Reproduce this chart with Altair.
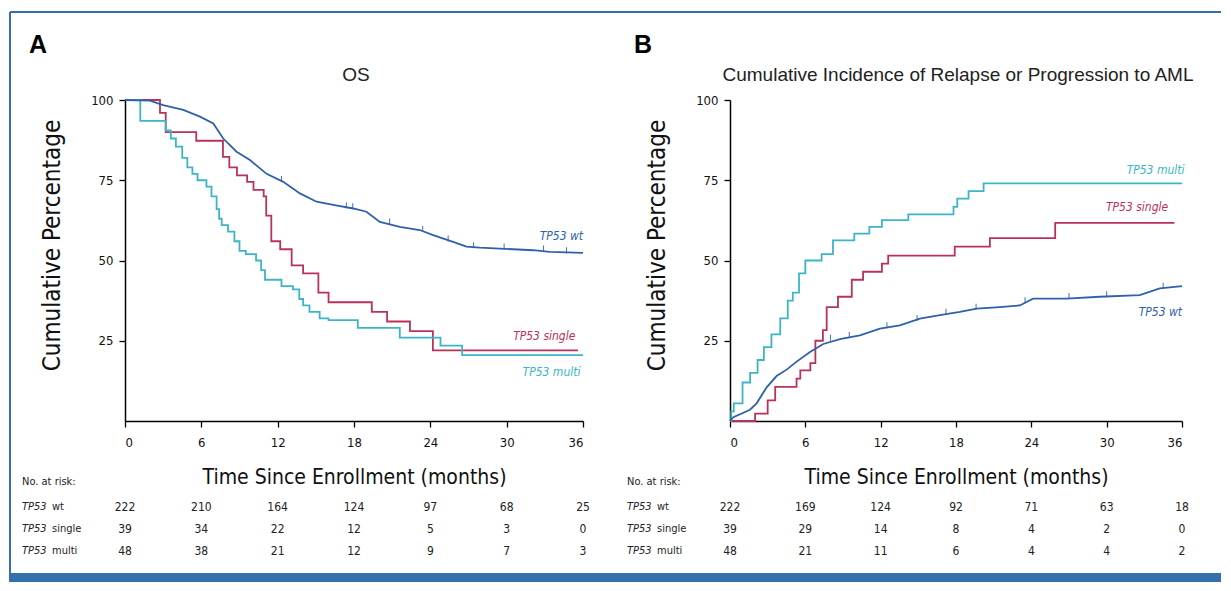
import altair as alt
import pandas as pd

# ---------------- data ----------------
groups = ["TP53 wt", "TP53 single", "TP53 multi"]
colors = ["#3060aa", "#b8325a", "#3cb6c6"]

# Panel A: overall survival (%)
os_wt_t = [0, 1.96, 3.0, 4.58, 5.89, 6.94, 7.72, 8.77, 9.82, 11.13, 12.44, 13.75, 15.06,
           16.37, 17.94, 18.98, 20.03, 21.6, 23.17, 24.22, 25.79, 26.84, 27.89, 29.46,
           32.08, 33.39, 36.0]
os_wt_v = [100, 99.8, 98.4, 96.9, 94.8, 92.7, 88.0, 83.9, 81.3, 77.0, 74.5, 70.9, 68.3,
           67.3, 66.2, 65.2, 62.0, 60.5, 59.5, 57.9, 55.8, 54.3, 54.0, 53.7, 53.2, 52.7, 52.4]
# censor marks on the wt curve
os_cens_t = [12.3, 17.4, 17.9, 20.8, 23.4, 25.4, 27.4, 29.8, 32.9, 34.7]
os_cens_v = [74.8, 66.5, 66.3, 61.5, 59.2, 56.2, 54.1, 53.7, 53.1, 52.6]

os_single_t = [0, 2.75, 3.2, 5.6, 7.7, 8.2, 8.8, 9.6, 10.1, 10.9, 11.1, 11.5, 12.2, 13.1,
               14.0, 15.2, 16.0, 19.4, 20.6, 22.4, 24.2, 35.6]
os_single_v = [100, 96, 90, 87.3, 82.3, 79, 76.5, 74.5, 72, 70, 64, 56, 53.5, 48.5,
               46, 40, 37, 34, 31, 28, 22, 22]

os_multi_t = [0, 1.2, 3.2, 3.6, 4.0, 4.5, 4.9, 5.3, 5.7, 6.4, 6.8, 7.2, 7.4, 7.6, 8.1, 8.6,
              9.0, 9.5, 10.3, 10.7, 11.0, 12.3, 13.2, 13.7, 14.0, 14.5, 15.3, 16.0, 18.3,
              21.6, 24.8, 26.5, 36.0]
os_multi_v = [100, 93.5, 90.5, 88, 85.5, 82, 79, 77, 75, 73, 70, 66, 63, 61, 59, 56,
              53, 52, 50, 47, 44, 42, 41, 38, 36, 34, 32, 31.4, 29, 26, 23.5, 20.5, 20.5]

# Panel B: cumulative incidence of relapse / progression to AML (%)
ci_wt_t = [0, 0.27, 1.59, 2.12, 2.92, 3.71, 4.51, 5.31, 6.37, 7.43, 8.76, 10.35, 11.94,
           13.53, 15.12, 16.72, 18.31, 19.63, 21.49, 23.08, 24.14, 26.8, 29.45, 32.63,
           34.23, 36.0]
ci_wt_v = [0, 1.2, 3.5, 5.5, 10.5, 14.0, 16.0, 18.5, 21.5, 24.0, 25.5, 26.7, 28.8, 29.8,
           31.9, 33, 34, 35, 35.5, 36, 38.1, 38.1, 38.7, 39.2, 41.3, 42]
ci_cens_t = [8.0, 9.5, 12.5, 14.9, 17.2, 19.6, 23.5, 27.0, 30.0, 34.5]
ci_cens_v = [25.3, 26.2, 29.2, 31.5, 33.4, 35.0, 37.0, 38.3, 38.9, 41.5]

ci_single_t = [0, 2.0, 3.0, 3.6, 5.3, 5.6, 6.4, 6.8, 7.4, 7.7, 8.6, 9.7, 10.6, 12.1, 12.6,
               17.9, 20.7, 25.9, 35.4]
ci_single_v = [0, 2.3, 6.4, 10.6, 13.2, 15.8, 18, 25, 28.3, 35.5, 38.7, 44, 46.5, 49,
               51.5, 54.3, 57, 61.7, 61.7]

ci_multi_t = [0, 0.1, 0.3, 1.0, 1.6, 2.2, 2.7, 3.3, 4.0, 4.6, 5.0, 5.5, 6.0, 7.3, 8.2, 9.9,
              11.1, 12.1, 14.2, 17.8, 18.1, 19.0, 20.2, 36.0]
ci_multi_v = [0, 3, 5.5, 12, 15, 19, 23, 27, 32, 37.5, 40, 46, 50, 52, 56.3, 58.4,
              60.5, 62.6, 64.4, 66.7, 69.3, 71.6, 74, 74]

# numbers at risk
risk_t = [0, 6, 12, 18, 24, 30, 36]
risk_a = {"TP53 wt": [222, 210, 164, 124, 97, 68, 25],
          "TP53 single": [39, 34, 22, 12, 5, 3, 0],
          "TP53 multi": [48, 38, 21, 12, 9, 7, 3]}
risk_b = {"TP53 wt": [222, 169, 124, 92, 71, 63, 18],
          "TP53 single": [39, 29, 14, 8, 4, 2, 0],
          "TP53 multi": [48, 21, 11, 6, 4, 4, 2]}

# curve labels (anchored in data units)
lab_a_t = [36.0, 35.4, 35.8]
lab_a_v = [57.5, 26.5, 15.3]
lab_b_t = [36.0, 34.9, 36.2]
lab_b_v = [34.0, 66.6, 78.1]

# ---------------- styling ----------------
NARROW = "Liberation Sans Narrow, DejaVu Sans Condensed, Arial Narrow, sans-serif"
SANS = "Liberation Sans, Arial, Helvetica, sans-serif"
W, H = 458, 321
FRAME = "#3a6db0"

xscale = alt.Scale(domain=[0, 36], nice=False, zero=True)
yscale = alt.Scale(domain=[0, 100], nice=False)
color_scale = alt.Scale(domain=groups, range=colors)

xaxis = alt.Axis(values=risk_t, title="Time Since Enrollment (months)", grid=False,
                 domainColor="black", domainWidth=1.5, tickColor="black", tickWidth=1.3,
                 tickSize=6, labelPadding=9, labelFontSize=13, labelFont=NARROW,
                 labelColor="#111", titleFont=NARROW, titleFontSize=21,
                 titleFontWeight="normal", titlePadding=17, titleColor="#111")


def yaxis():
    return alt.Axis(values=[25, 50, 75, 100], title="Cumulative Percentage", grid=False,
                    domainColor="black", domainWidth=1.5, tickColor="black",
                    tickWidth=1.3, tickSize=6, labelPadding=6, labelFontSize=13,
                    labelFont=NARROW, labelColor="#111", titleFont=NARROW,
                    titleFontSize=24, titleFontWeight="normal", titleColor="#111",
                    titleX=-61, titleY=145)


def curves(series):
    rows = []
    for g, (ts, vs) in zip(groups, series):
        for t, v in zip(ts, vs):
            rows.append({"t": t, "v": v, "group": g})
    return pd.DataFrame(rows)


def panel(letter, title, series, cens, risk, lab_t, lab_v, width, frame=False):
    df = curves(series)
    base = alt.Chart(df)
    enc = dict(
        x=alt.X("t:Q", scale=xscale, axis=xaxis),
        y=alt.Y("v:Q", scale=yscale, axis=yaxis()),
        color=alt.Color("group:N", scale=color_scale, legend=None),
        detail="group:N",
    )
    steps = base.transform_filter(alt.datum.group != "TP53 wt").mark_line(
        interpolate="step-after", strokeWidth=1.8).encode(**enc)
    smooth = base.transform_filter(alt.datum.group == "TP53 wt").mark_line(
        interpolate="linear", strokeWidth=1.8).encode(**enc)

    cdf = pd.DataFrame({"t": cens[0], "v": cens[1], "group": ["TP53 wt"] * len(cens[0])})
    censor = alt.Chart(cdf).mark_tick(orient="vertical", size=6, thickness=1,
                                      yOffset=-2, opacity=0.9).encode(
        x=alt.X("t:Q", scale=xscale), y=alt.Y("v:Q", scale=yscale),
        color=alt.Color("group:N", scale=color_scale, legend=None))

    labs = pd.DataFrame({"t": lab_t, "v": lab_v, "group": groups})
    curve_labels = alt.Chart(labs).mark_text(
        align="right", baseline="middle", fontStyle="italic", fontSize=12, font=NARROW
    ).encode(x=alt.X("t:Q", scale=xscale), y=alt.Y("v:Q", scale=yscale),
             text="group:N", color=alt.Color("group:N", scale=color_scale, legend=None))

    layers = [steps, smooth, censor, curve_labels]

    one = pd.DataFrame({"letter": [letter], "title": [title], "nar": ["No. at risk:"]})
    layers.append(alt.Chart(one).mark_text(
        align="left", baseline="alphabetic", fontSize=25, fontWeight="bold", font=SANS,
        color="black").encode(text="letter:N", x=alt.value(-96), y=alt.value(-47)))
    layers.append(alt.Chart(one).mark_text(
        align="center", baseline="alphabetic", fontSize=19, font=SANS,
        color="#222").encode(text="title:N", x=alt.value(width / 2 + 2), y=alt.value(-19)))
    layers.append(alt.Chart(one).mark_text(
        align="left", baseline="middle", fontSize=11, font=NARROW,
        color="#222").encode(text="nar:N", x=alt.value(-103), y=alt.value(382)))

    row_y = [407, 429, 451]
    for g, yy in zip(groups, row_y):
        rd = pd.DataFrame({"t": risk_t, "n": risk[g], "p1": ["TP53"] * 7,
                           "p2": [g.split(" ")[1]] * 7})
        layers.append(alt.Chart(rd).mark_text(
            align="center", baseline="middle", fontSize=12, font=NARROW, color="#222"
        ).encode(x=alt.X("t:Q", scale=xscale), y=alt.value(yy), text="n:Q"))
        lab = rd.head(1)
        layers.append(alt.Chart(lab).mark_text(
            align="left", baseline="middle", fontSize=11, font=NARROW,
            fontStyle="italic", color="#222").encode(
            text="p1:N", x=alt.value(-103), y=alt.value(yy)))
        layers.append(alt.Chart(lab).mark_text(
            align="left", baseline="middle", fontSize=11, font=NARROW, color="#222"
        ).encode(text="p2:N", x=alt.value(-73), y=alt.value(yy)))

    if frame:
        fr = pd.DataFrame({"k": ["frame"]})
        layers.append(alt.Chart(fr).mark_rule(color=FRAME, strokeWidth=2).encode(
            x=alt.value(-115), x2=alt.value(1096), y=alt.value(-88)))
        layers.append(alt.Chart(fr).mark_rule(color=FRAME, strokeWidth=2).encode(
            x=alt.value(-115), y=alt.value(-88), y2=alt.value(473)))
        layers.append(alt.Chart(fr).mark_rect(color="#3470ad").encode(
            x=alt.value(-116), x2=alt.value(1096), y=alt.value(473), y2=alt.value(482)))

    return alt.layer(*layers).properties(width=width, height=H)


panel_a = panel("A", "OS", [(os_wt_t, os_wt_v), (os_single_t, os_single_v),
                            (os_multi_t, os_multi_v)], (os_cens_t, os_cens_v),
                risk_a, lab_a_t, lab_a_v, W, frame=True)
panel_b = panel("B", "Cumulative Incidence of Relapse or Progression to AML",
                [(ci_wt_t, ci_wt_v), (ci_single_t, ci_single_v), (ci_multi_t, ci_multi_v)],
                (ci_cens_t, ci_cens_v), risk_b, lab_b_t, lab_b_v, 452)

chart = alt.hconcat(panel_a, panel_b, spacing=147, bounds="flush").properties(
    padding={"left": 1, "top": 3, "right": 0, "bottom": 0},
    background="white",
).configure_view(stroke=None)

chart.save("out.html", embed_options={"renderer": "svg", "actions": False})
